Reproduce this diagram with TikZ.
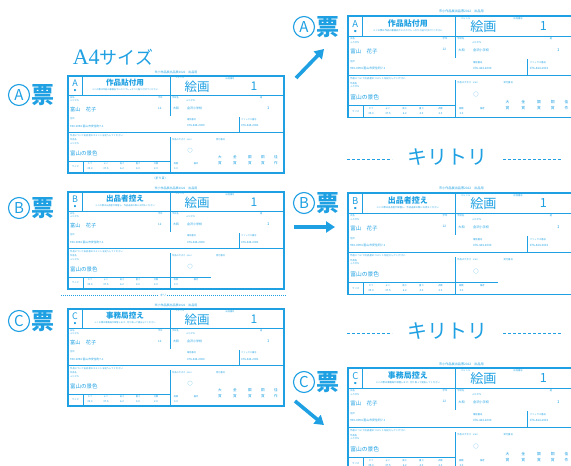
\documentclass[tikz,border=0pt]{standalone}
\usepackage{fontspec}
\setmainfont{Noto Sans CJK JP}
\newfontfamily\serifA{Liberation Serif}
\usetikzlibrary{arrows.meta}
\definecolor{fb}{RGB}{30,160,226}
\tikzset{
  fz/.style={font=\fontsize{#1}{#1}\selectfont},
  fzb/.style={font=\fontsize{#1}{#1}\selectfont\bfseries},
  tx/.style={text=fb, inner sep=0pt},
  txw/.style={text=fb, inner sep=0pt, anchor=west},
  outerline/.style={draw=fb, line width=1.1pt},
  innerline/.style={draw=fb, line width=0.6pt},
  arr/.style={draw=fb, line width=3.6pt, -{Triangle[length=9pt,width=11pt]}},
  cutline/.style={draw=fb, line width=0.9pt, dash pattern=on 2.5pt off 2.5pt},
  finecut/.style={draw=fb, line width=0.5pt, dash pattern=on 1pt off 1pt},
  ring/.style={circle, draw=fb, line width=1.1pt, minimum size=21pt, inner sep=0pt, text=fb, font=\fontsize{15}{15}\selectfont},
  hyo/.style={text=fb, inner sep=0pt, font=\fontsize{23}{23}\selectfont\bfseries},
  pics/form/.style n args={3}{code={
    \draw[outerline] (0,0) rectangle (216,97);
    \draw[innerline] (14,0) -- (14,19) (0,19) -- (216,19) (102,0) -- (102,40)
      (0,56) -- (216,56) (171,41) -- (171,56) (102,61) -- (102,97)
      (0,85) -- (102,85) (15,85) -- (15,97);
    \node[tx,fz=3] (-hd) at (108,-4) {市小作品展出品票2022　出品用};
    \node[tx,fz=9] (-lt) at (7,7.5) {#1};
    \node[tx,fz=2.4] (-mk) at (7,15) {■};
    \node[tx,fzb=7.6] (-ti) at (57,7) {#2};
    \node[tx,fz=2.2] (-st) at (57,13.5) {#3};
    \node[tx,fz=2.2] (-l1) at (112,2.2) {ジャンル};
    \node[tx,fz=2.2] (-l2) at (162,2.2) {出品番号};
    \node[tx,fz=12.5] (-ga) at (129,10.5) {絵画};
    \node[tx,fz=12] (-no) at (186,10) {1};
    \node[txw,fz=2.2] (-l3) at (2,21.5) {氏名};
    \node[txw,fz=2.2] (-l4) at (2,25) {ふりがな};
    \node[txw,fz=2.2] (-l5) at (90,21.5) {学年};
    \node[txw,fz=2.2] (-l6) at (104,21.5) {学校名};
    \node[txw,fz=2.2] (-l7) at (118,25) {ふりがな};
    \node[txw,fz=2.2] (-l8) at (192,21.5) {組};
    \node[txw,fz=5.2] (-nm) at (2,34) {富山　花子};
    \node[txw,fz=3] (-gr) at (90,32) {12};
    \node[txw,fz=3] (-ar) at (105,32.5) {大和};
    \node[txw,fz=3] (-sc) at (119,32.5) {金沢小学校};
    \node[txw,fz=4] (-cl) at (199,32.5) {1};
    \node[txw,fz=2.2] (-l9) at (2,43) {住所};
    \node[txw,fz=2.8] (-ad) at (2,50) {930-0094 富山市安住町7-1};
    \node[txw,fz=2.2] (-l10) at (119,44) {電話番号};
    \node[txw,fz=2.2] (-l11) at (173,44) {ファックス番号};
    \node[txw,fz=2.8] (-p1) at (119,50) {076-444-2000};
    \node[txw,fz=2.8] (-p2) at (173,50) {076-444-2001};
    \node[txw,fz=2.3] (-cm) at (2,59.5) {作品について出品者のコメントを記入してください};
    \node[txw,fz=2.2] (-l12) at (2,64) {作品名};
    \node[txw,fz=2.2] (-l13) at (2,67.5) {ふりがな};
    \node[txw,fz=5.5] (-wk) at (2,77) {富山の景色};
    \node[txw,fz=2.2] (-l14) at (104,63.5) {作品の大きさ（cm）};
    \node[txw,fz=2.2] (-l15) at (148,63.5) {受付番号};
    \node[tx,fz=5] (-ok) at (122,75) {○};
    \node[tx,fz=2.2] (-sz) at (7.5,91) {サイズ};
    \foreach \x/\l/\v [count=\i] in {22/たて/39.4,38/よこ/37.5,54/高さ/6.2,70/重さ/4.0,88/点数/2.0,108/版数/3.0}{
      \node[tx,fz=2.2] (-c\i) at (\x,87.8) {\l};
      \node[tx,fz=2.6] (-v\i) at (\x,92.6) {\v};
    }
    \node[tx,fz=2.2] (-l16) at (128,87.8) {備考};
  }},
  pics/awards/.style={code={
    \foreach \x/\a/\b [count=\i] in {152/大/賞,167/金/賞,182/銀/賞,195/銅/賞,208/佳/作}{
      \node[tx,fz=3.6] (-a\i) at (\x,81.5) {\a};
      \node[tx,fz=3.6] (-b\i) at (\x,87.5) {\b};
    }
  }},
  pics/bextra/.style={code={
    \draw[innerline] (102,85) -- (143,85);
  }},
}
\begin{document}
\begin{tikzpicture}[x=1pt,y=-1pt]
\useasboundingbox (0,0) rectangle (571,466);
\clip (0,0) rectangle (571,466);

% ---- left column (A4 sheet) ----
\node[text=fb, inner sep=0pt] (a4) at (113,57) {{\serifA\fontsize{22}{22}\selectfont A4}{\fontsize{18}{18}\selectfont サイズ}};

\pic (fla) at (68,76) {form={A}{作品貼付用}{※この票は作品の裏面右下にのりでしっかりと貼り付けてください}};
\pic (flaw) at (68,76) {awards};
\node[tx,fz=3] (pg1) at (160,178) {（折り目）};

\pic (flb) at (68,192) {form={B}{出品者控え}{※この票は出品者が保管し、作品返却の際にお持ちください}};
\pic (flbx) at (68,192) {bextra};

\coordinate (ctl1) at (61,295);
\coordinate (ctl2) at (286,295);
\draw[finecut] (ctl1) -- (ctl2);
\node[tx,fz=3,fill=white,inner sep=1pt] (kl) at (163,295) {キリ};

\pic (flc) at (68,309) {form={C}{事務局控え}{※この票は事務局が保管します。切り取って提出してください}};
\pic (flcw) at (68,309) {awards};

\node[ring] (ra1) at (19,95) {A};
\node[hyo] (ha1) at (43,95) {票};
\node[ring] (rb1) at (19,208) {B};
\node[hyo] (hb1) at (43,208) {票};
\node[ring] (rc1) at (19,321) {C};
\node[hyo] (hc1) at (43,321) {票};

% ---- right column (cut slips) ----
\pic[scale=1.05, transform shape] (fra) at (348,16) {form={A}{作品貼付用}{※この票は作品の裏面右下にのりでしっかりと貼り付けてください}};
\pic[scale=1.05, transform shape] (fraw) at (348,16) {awards};
\pic[scale=1.05, transform shape] (frb) at (348,193) {form={B}{出品者控え}{※この票は出品者が保管し、作品返却の際にお持ちください}};
\pic[scale=1.05, transform shape] (frbx) at (348,193) {bextra};
\pic[scale=1.05, transform shape] (frc) at (348,368) {form={C}{事務局控え}{※この票は事務局が保管します。切り取って提出してください}};
\pic[scale=1.05, transform shape] (frcw) at (348,368) {awards};

\node[ring] (ra2) at (304,27) {A};
\node[hyo] (ha2) at (328,27) {票};
\node[ring] (rb2) at (304,203) {B};
\node[hyo] (hb2) at (328,203) {票};
\node[ring] (rc2) at (304,382) {C};
\node[hyo] (hc2) at (328,382) {票};

% cut marks
\node[text=fb, inner sep=0pt, font=\fontsize{20}{20}\selectfont] (k1) at (447,157) {キリトリ};
\coordinate (d1a) at (347,159); \coordinate (d1b) at (392,159);
\coordinate (d1c) at (503,159); \coordinate (d1d) at (562,159);
\draw[cutline] (d1a) -- (d1b);
\draw[cutline] (d1c) -- (d1d);
\node[text=fb, inner sep=0pt, font=\fontsize{20}{20}\selectfont] (k2) at (447,331) {キリトリ};
\coordinate (d2a) at (347,333); \coordinate (d2b) at (392,333);
\coordinate (d2c) at (503,333); \coordinate (d2d) at (562,333);
\draw[cutline] (d2a) -- (d2b);
\draw[cutline] (d2c) -- (d2d);

% arrows
\coordinate (aa1) at (296,78); \coordinate (aa2) at (324,49);
\draw[arr] (aa1) -- (aa2);
\coordinate (ab1) at (294,227); \coordinate (ab2) at (335,227);
\draw[arr] (ab1) -- (ab2);
\coordinate (ac1) at (295,401); \coordinate (ac2) at (324,425);
\draw[arr] (ac1) -- (ac2);
\end{tikzpicture}
\end{document}
